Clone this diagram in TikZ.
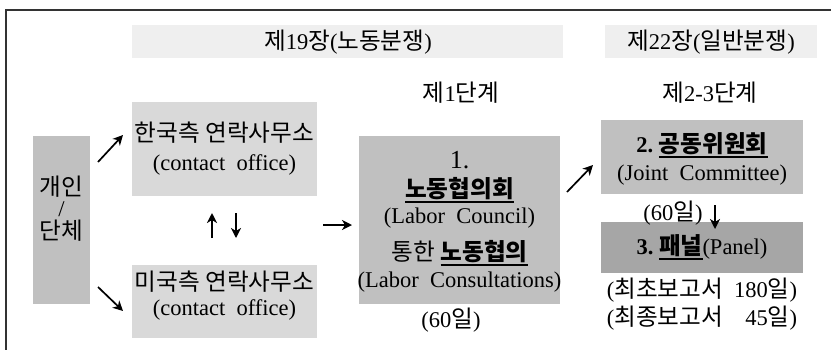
\documentclass[tikz,border=0pt]{standalone}
\usepackage{fontspec}
\setmainfont{Liberation Serif}
\newfontfamily\kr[Scale=1.05]{Noto Sans CJK KR}
\usetikzlibrary{arrows.meta}
\newcommand\K[1]{{\kr #1}}
\newcommand\myul[1]{\setbox0\hbox{#1}\leavevmode\rlap{\vrule width\wd0 height -3.5pt depth 5.5pt}\box0}
\definecolor{hdr}{HTML}{EFEFEF}
\definecolor{lite}{HTML}{D9D9D9}
\definecolor{mid}{HTML}{C0C0C0}
\definecolor{dark}{HTML}{A6A6A6}
\definecolor{frame}{HTML}{333333}
\begin{document}
\begin{tikzpicture}[x=1pt,y=-1pt,
  font=\fontsize{22.5}{26}\selectfont,
  boxs/.style={draw=none, inner sep=0, outer sep=0},
  txt/.style={inner sep=0, outer sep=0, anchor=center},
  arr/.style={line width=1.7pt, -{Stealth[length=10pt,width=10pt,inset=3pt]}}]
\useasboundingbox (0,0) rectangle (831,349);
% frame
\draw[frame, line width=2pt] (6,360) -- (6,10) -- (845,10);
% boxes
\node[boxs, fill=hdr, minimum width=431pt, minimum height=33pt] (hdr1) at (347.5,41.5) {};
\node[boxs, fill=hdr, minimum width=212pt, minimum height=33pt] (hdr2) at (711,41.5) {};
\node[boxs, fill=lite, minimum width=185pt, minimum height=94pt] (con1) at (224.5,149) {};
\node[boxs, fill=lite, minimum width=185pt, minimum height=73pt] (con2) at (224.5,301.5) {};
\node[boxs, fill=mid, minimum width=57pt, minimum height=168pt] (ind) at (61.5,220) {};
\node[boxs, fill=mid, minimum width=201pt, minimum height=168pt] (lab) at (459.5,220) {};
\node[boxs, fill=mid, minimum width=202pt, minimum height=74pt] (jc) at (702,157) {};
\node[boxs, fill=dark, minimum width=202pt, minimum height=51pt] (pan) at (702,247.5) {};
% texts
\node[txt] (th1) at (348,42) {\K{제}19\K{장}(\K{노동분쟁})};
\node[txt] (th2) at (711,42) {\K{제}22\K{장}(\K{일반분쟁})};
\node[txt] (st1) at (461,93) {\K{제}1\K{단계}};
\node[txt] (st2) at (710,93) {\K{제}2-3\K{단계}};
\node[txt] (c1a) at (224.5,133) {\K{한국측 연락사무소}};
\node[txt] (c1b) at (224.5,165) {(contact\ \ office)};
\node[txt] (c2a) at (224.5,282) {\K{미국측 연락사무소}};
\node[txt] (c2b) at (224.5,310) {(contact\ \ office)};
\node[txt] (i1) at (61.5,187) {\K{개인}};
\node[txt] (i2) at (61.5,209) {/};
\node[txt] (i3) at (61.5,231) {\K{단체}};
\node[txt] (l1) at (459.5,160) {\fontsize{26}{26}\selectfont 1.};
\node[txt] (l2) at (459.5,190) {\myul{\K{\bfseries 노동협의회}}};
\node[txt] (l3) at (459.5,218) {(Labor\ \ Council)};
\node[txt] (l4) at (459.5,253) {\K{통한} \myul{\K{\bfseries 노동협의}}};
\node[txt] (l5) at (459.5,282) {(Labor\ \ Consultations)};
\node[txt] (l6) at (451,320) {(60\K{일})};
\node[txt] (j1) at (702,145) {\textbf{2.}\ \myul{\K{\bfseries 공동위원회}}};
\node[txt] (j2) at (702,175) {(Joint\ \ Committee)};
\node[txt] (j3) at (673,213) {(60\K{일})};
\node[txt] (p1) at (702,247) {\textbf{3.}\ \myul{\K{\bfseries 패널}}(Panel)};
\node[txt] (r1) at (702,290) {(\K{최초보고서}\ \ 180\K{일})};
\node[txt] (r2) at (702,318) {(\K{최종보고서}\ \ \ \ 45\K{일})};
% arrows
\coordinate (a1s) at (98,162); \coordinate (a1e) at (123,135);
\coordinate (a2s) at (98,287); \coordinate (a2e) at (123,311);
\coordinate (ups) at (212,238); \coordinate (upe) at (212,213);
\coordinate (dns) at (236,213); \coordinate (dne) at (236,238);
\coordinate (rts) at (323,225); \coordinate (rte) at (352,225);
\coordinate (a3s) at (567,192); \coordinate (a3e) at (593,165);
\coordinate (d2s) at (715,205); \coordinate (d2e) at (715,229);
\draw[arr] (a1s) -- (a1e);
\draw[arr] (a2s) -- (a2e);
\draw[arr] (ups) -- (upe);
\draw[arr] (dns) -- (dne);
\draw[arr] (rts) -- (rte);
\draw[arr] (a3s) -- (a3e);
\draw[arr] (d2s) -- (d2e);
\end{tikzpicture}
\end{document}
